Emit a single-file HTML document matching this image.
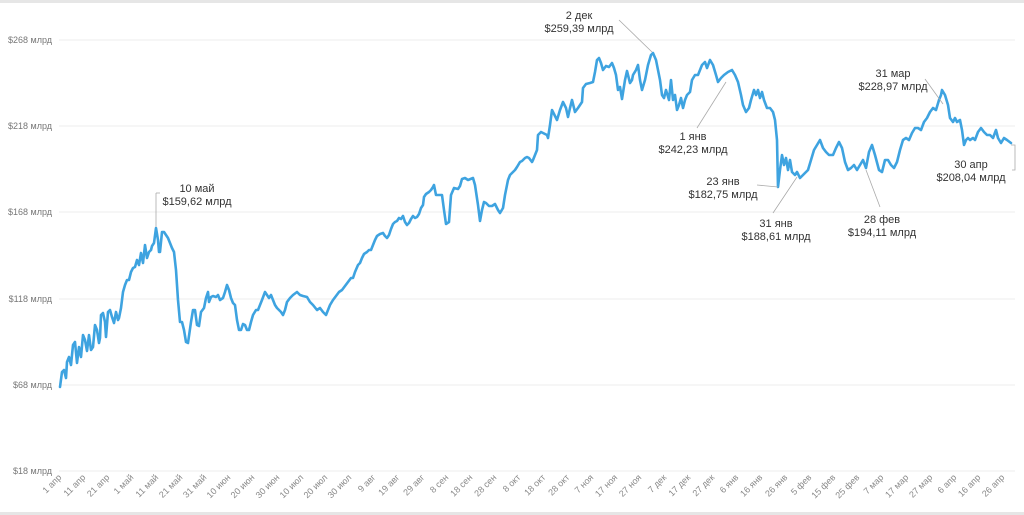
<!DOCTYPE html>
<html><head><meta charset="utf-8"><style>
html,body{margin:0;padding:0;background:#fff;}
svg{display:block;font-family:"Liberation Sans",sans-serif;}
</style></head><body>
<svg width="1024" height="515" viewBox="0 0 1024 515" xmlns="http://www.w3.org/2000/svg">
<rect x="0" y="0" width="1024" height="3" fill="#e6e6e6"/>
<rect x="0" y="512" width="1024" height="3" fill="#e6e6e6"/>
<g stroke="#ececec" stroke-width="1">
<line x1="59" y1="40" x2="1015" y2="40"/>
<line x1="59" y1="126" x2="1015" y2="126"/>
<line x1="59" y1="212" x2="1015" y2="212"/>
<line x1="59" y1="299" x2="1015" y2="299"/>
<line x1="59" y1="385" x2="1015" y2="385"/>
<line x1="59" y1="471" x2="1015" y2="471"/>
</g>
<g font-size="9" fill="#777" text-anchor="end">
<text x="52" y="43">$268 млрд</text>
<text x="52" y="129">$218 млрд</text>
<text x="52" y="215">$168 млрд</text>
<text x="52" y="302">$118 млрд</text>
<text x="52" y="388">$68 млрд</text>
<text x="52" y="474">$18 млрд</text>
</g>
<g id="xl" font-size="9" fill="#888" text-anchor="end"></g>
<polyline fill="none" stroke="#3ea3e0" stroke-width="2.6" stroke-linejoin="round" stroke-linecap="round" points="
60,387 62,372 64,370 66,378 67,362 69,357 71,365 73,345 75,342 77,363 79,347 81,357 83,335 85,340 87,351 89,335 91,350 93,347 95,325 97,330 99,343 100,338 101,315 103,313 105,322 106,337 108,312 110,310 112,317 114,323 116,312 118,320 119,318 121,308 123,292 125,285 127,280 129,280 131,272 133,268 135,267 137,260 139,265 141,253 143,263 145,245 147,258 149,252 151,250 152,246 154,243 156,228 158,240 159,252 160,252 162,232 164,232 166,235 168,238 172,248 174,252 176,270 178,300 180,322 182,322 184,330 186,342 188,343 191,322 193,310 195,310 197,325 199,326 201,312 204,308 206,298 208,292 209,302 211,297 213,296 216,297 218,295 220,300 223,298 225,292 227,285 229,290 231,298 233,303 235,305 237,320 239,330 241,330 243,324 245,325 247,330 249,330 251,322 253,315 256,310 258,310 260,305 262,300 265,292 267,295 269,298 271,295 273,300 275,305 277,308 279,310 281,312 283,315 285,310 287,302 290,298 293,295 297,292 300,295 303,296 307,297 310,302 313,305 317,310 320,308 323,312 326,315 328,310 330,305 333,300 336,296 339,292 342,290 345,286 348,282 351,278 353,278 355,272 358,265 360,263 362,258 364,254 367,252 369,250 371,250 373,245 375,240 377,236 380,234 383,233 385,236 387,238 389,235 391,229 393,224 395,222 397,221 399,218 401,219 403,216 405,222 407,225 409,223 411,219 413,216 415,218 417,217 419,214 421,208 423,205 424,197 426,194 429,192 431,190 433,187 434,185 436,195 438,195 442,195 444,210 446,224 449,222 451,195 454,188 458,189 460,186 462,179 465,178 468,180 473,178 475,185 478,205 480,221 482,210 484,202 486,203 489,206 492,206 495,204 498,210 500,213 503,208 505,195 508,180 510,175 512,173 515,170 517,167 520,162 522,161 525,158 527,157 529,158 532,162 533,160 535,155 537,150 538,135 541,132 545,134 547,135 548,138 550,125 552,110 555,116 557,120 560,110 563,102 566,108 568,117 570,108 572,100 575,112 578,108 582,102 583,88 586,84 590,83 593,82 595,72 597,60 599,58 601,63 603,70 606,66 609,67 612,63 614,68 616,75 618,90 620,87 622,99 625,80 627,71 630,83 632,80 633,75 636,70 638,65 640,80 642,90 645,80 648,65 651,55 653,53 656,60 658,70 660,80 662,95 664,98 666,90 669,100 671,80 673,100 675,95 677,110 679,105 681,98 683,108 685,100 687,95 690,92 692,80 695,75 698,75 702,65 705,62 707,68 710,60 713,65 716,75 718,82 721,78 724,75 728,72 732,70 735,75 738,82 741,95 743,105 746,112 749,108 751,100 754,90 756,95 758,90 760,98 762,92 764,100 767,108 770,108 773,112 775,120 777,140 778,187 780,170 782,155 784,165 786,158 788,170 790,160 792,172 795,175 797,172 800,178 803,175 806,172 808,170 811,160 814,150 817,145 820,140 823,148 826,152 829,155 833,155 836,148 839,142 842,148 845,162 848,170 851,168 854,165 857,170 860,165 863,160 866,168 869,152 872,145 875,155 879,170 882,172 885,160 888,160 891,165 894,168 897,162 900,150 903,140 906,138 909,140 912,133 915,128 918,128 921,130 924,122 927,118 930,112 933,108 936,110 939,100 941,95 942,90 945,95 948,105 950,118 953,122 955,118 957,122 960,120 962,130 964,145 966,140 968,138 970,140 973,138 975,140 978,132 981,128 984,132 987,135 990,135 993,138 996,130 998,138 1001,143 1004,138 1007,140 1011,143"/>
<g stroke="#aaa" stroke-width="0.8" fill="none">
<line x1="156" y1="193" x2="156" y2="227"/><line x1="156" y1="193" x2="160" y2="193"/>
<line x1="619" y1="20" x2="652" y2="52"/>
<line x1="697" y1="128" x2="726" y2="82"/>
<line x1="757" y1="185" x2="778" y2="187"/>
<line x1="773" y1="213" x2="797" y2="177"/>
<line x1="880" y1="207" x2="866" y2="170"/>
<line x1="925" y1="79" x2="943" y2="104"/>
<polyline points="1011,145 1015,145 1015,170 1012,170"/>
</g>
<g font-size="11" fill="#333" text-anchor="middle">
<text x="197" y="192">10 май</text><text x="197" y="205">$159,62 млрд</text>
<text x="579" y="19">2 дек</text><text x="579" y="32">$259,39 млрд</text>
<text x="693" y="140">1 янв</text><text x="693" y="153">$242,23 млрд</text>
<text x="723" y="185">23 янв</text><text x="723" y="198">$182,75 млрд</text>
<text x="776" y="227">31 янв</text><text x="776" y="240">$188,61 млрд</text>
<text x="882" y="223">28 фев</text><text x="882" y="236">$194,11 млрд</text>
<text x="893" y="77">31 мар</text><text x="893" y="90">$228,97 млрд</text>
<text x="971" y="168">30 апр</text><text x="971" y="181">$208,04 млрд</text>
</g>
<g font-size="9" fill="#888" text-anchor="end">
<text transform="translate(62,478) rotate(-45)">1 апр</text>
<text transform="translate(86,478) rotate(-45)">11 апр</text>
<text transform="translate(110,478) rotate(-45)">21 апр</text>
<text transform="translate(134,478) rotate(-45)">1 май</text>
<text transform="translate(159,478) rotate(-45)">11 май</text>
<text transform="translate(183,478) rotate(-45)">21 май</text>
<text transform="translate(207,478) rotate(-45)">31 май</text>
<text transform="translate(231,478) rotate(-45)">10 июн</text>
<text transform="translate(255,478) rotate(-45)">20 июн</text>
<text transform="translate(280,478) rotate(-45)">30 июн</text>
<text transform="translate(304,478) rotate(-45)">10 июл</text>
<text transform="translate(328,478) rotate(-45)">20 июл</text>
<text transform="translate(352,478) rotate(-45)">30 июл</text>
<text transform="translate(376,478) rotate(-45)">9 авг</text>
<text transform="translate(400,478) rotate(-45)">19 авг</text>
<text transform="translate(425,478) rotate(-45)">29 авг</text>
<text transform="translate(449,478) rotate(-45)">8 сен</text>
<text transform="translate(473,478) rotate(-45)">18 сен</text>
<text transform="translate(497,478) rotate(-45)">28 сен</text>
<text transform="translate(521,478) rotate(-45)">8 окт</text>
<text transform="translate(546,478) rotate(-45)">18 окт</text>
<text transform="translate(570,478) rotate(-45)">28 окт</text>
<text transform="translate(594,478) rotate(-45)">7 ноя</text>
<text transform="translate(618,478) rotate(-45)">17 ноя</text>
<text transform="translate(642,478) rotate(-45)">27 ноя</text>
<text transform="translate(667,478) rotate(-45)">7 дек</text>
<text transform="translate(691,478) rotate(-45)">17 дек</text>
<text transform="translate(715,478) rotate(-45)">27 дек</text>
<text transform="translate(739,478) rotate(-45)">6 янв</text>
<text transform="translate(763,478) rotate(-45)">16 янв</text>
<text transform="translate(788,478) rotate(-45)">26 янв</text>
<text transform="translate(812,478) rotate(-45)">5 фев</text>
<text transform="translate(836,478) rotate(-45)">15 фев</text>
<text transform="translate(860,478) rotate(-45)">25 фев</text>
<text transform="translate(884,478) rotate(-45)">7 мар</text>
<text transform="translate(909,478) rotate(-45)">17 мар</text>
<text transform="translate(933,478) rotate(-45)">27 мар</text>
<text transform="translate(957,478) rotate(-45)">6 апр</text>
<text transform="translate(981,478) rotate(-45)">16 апр</text>
<text transform="translate(1005,478) rotate(-45)">26 апр</text>
</g>
</svg>
</body></html>
